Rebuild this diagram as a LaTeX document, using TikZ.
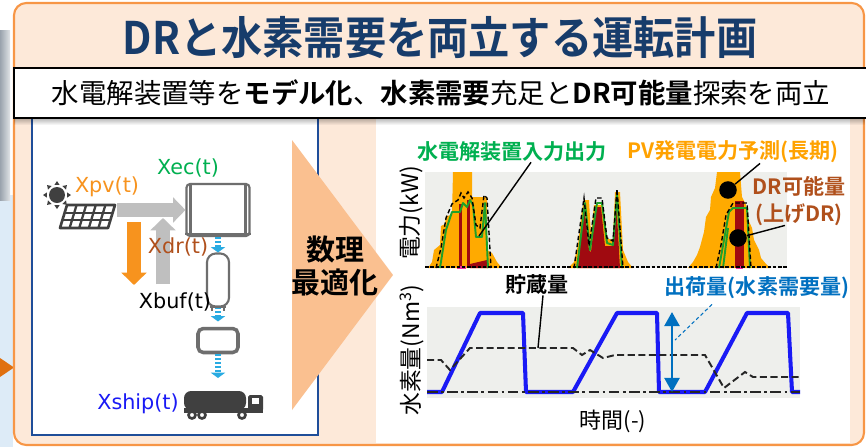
\documentclass[tikz,border=0pt]{standalone}
\usepackage{fontspec}
\setmainfont{Noto Sans CJK JP}[BoldFont={Noto Sans CJK JP Bold}]
\newfontfamily\varfont{DejaVu Sans}
\newfontfamily\headfont{Noto Sans CJK JP Bold}[FakeStretch=0.92]
\usetikzlibrary{arrows.meta, calc, fadings}
\definecolor{titlecolor}{HTML}{173C6B}
\definecolor{panelfill}{HTML}{FDE9D9}
\definecolor{panelrim}{HTML}{F79646}
\definecolor{chevron}{HTML}{FAC090}
\definecolor{boxblue}{HTML}{1F4E99}
\definecolor{stripblue}{HTML}{DDEBF7}
\definecolor{stripgray}{HTML}{9AA3AD}
\definecolor{marker}{HTML}{E0700F}
\definecolor{ink}{HTML}{404040}
\definecolor{unitgray}{HTML}{6E6E6E}
\definecolor{arrgray}{HTML}{BFBFBF}
\definecolor{pvorange}{HTML}{F7931E}
\definecolor{ecgreen}{HTML}{00B050}
\definecolor{drbrown}{HTML}{B0501C}
\definecolor{shipblue}{HTML}{1A1AF5}
\definecolor{demand}{HTML}{0070C0}
\definecolor{water}{HTML}{29ABE2}
\definecolor{plotbg}{HTML}{EEEFEC}
\definecolor{pvfill}{HTML}{FFAA00}
\definecolor{drfill}{HTML}{A00A10}
\definecolor{ecline}{HTML}{1FA02A}
\definecolor{pvlabel}{HTML}{FFA200}

\begin{document}
\begin{tikzpicture}[x=0.02cm, y=-0.02cm,
    every node/.style={inner sep=0pt},
    title/.style={font=\headfont\fontsize{25.5}{28}\selectfont, text=titlecolor},
    lead/.style={font=\fontsize{15.6}{18}\selectfont},
    varlab/.style={font=\varfont\fontsize{11.8}{14}\selectfont},
    plotlab/.style={font=\fontsize{12}{15.3}\selectfont\bfseries},
    axlab/.style={font=\fontsize{13}{15}\selectfont},
    unitbox/.style={draw=unitgray, line width=1.2pt, fill=white},
    bigarr/.style={line width=8.5pt, -{Triangle[length=7pt, width=14pt]}},
    flow/.style={draw=water, line width=3.5pt, dash pattern=on 1.1pt off 1.1pt,
                 -{Triangle[length=3pt, width=8pt]}},
    leader/.style={draw=black, line width=0.8pt},
    leaddot/.style={circle, fill=black, minimum size=10pt},
    dashes/.style={draw=black!85, line width=1.1pt, dash pattern=on 4pt off 2pt},
]
\useasboundingbox (0,0) rectangle (866,447);

% ---------------------------------------------------------- frame
\fill[stripblue] (0,195) rectangle (13,447);
\shade[left color=stripgray, right color=stripgray!30] (0,30) rectangle (10,200);
\fill[marker] (0,358) -- (14,367.5) -- (0,377) -- cycle;
\draw[draw=panelrim, fill=panelfill, line width=1.2pt, rounded corners=7pt]
    (14,3) rectangle (864,445);

\node[title] (head) at (440,38) {DRと水素需要を両立する運転計画};

% left: the plant, right: the two plots
\draw[boxblue, line width=1.2pt, fill=white] (32,118) rectangle (318,435);
\fill[white] (376,118) rectangle (850,443);

\fill[white, draw=black, line width=1.2pt] (14,68) rectangle (870,118);
\fill[black, opacity=0.25, path fading=south] (14,119) rectangle (866,125);
\node[lead] (lead) at (441,93)
    {水電解装置等を\textbf{モデル化}、\textbf{水素需要}充足と\textbf{DR可能量}探索を両立};

% ---------------------------------------------------------- optimisation chevron
\fill[chevron] (292,140) -- (393,275) -- (292,410) -- cycle;
\node[font=\fontsize{16.5}{18.7}\selectfont\bfseries, align=center] (solve)
    at (335,266) {数理\\最適化};

% ---------------------------------------------------------- sun and PV panel
\fill[ink] (57,195) circle[radius=8];
\foreach \a in {0,45,...,315}
  \fill[ink] ($(57,195)+(\a:14)$) -- ($(57,195)+(\a+14:10.5)$)
             -- ($(57,195)+(\a-14:10.5)$) -- cycle;
\filldraw[draw=ink, fill=white, line width=1.5pt, line join=round]
    (60,228) -- (108,228) -- (115,205) -- (67,205) -- cycle;
\foreach \i in {1,...,4}
  \draw[ink, line width=1.3pt] (60+9.6*\i,228) -- (67+9.6*\i,205);
\foreach \j in {1,2}
  \draw[ink, line width=1.3pt] (60+7*\j/3,228-23*\j/3) -- (108+7*\j/3,228-23*\j/3);
\coordinate (pv) at (117,210);

% ---------------------------------------------------------- electrolyser, buffer, truck
\node[unitbox, rounded corners=2pt, minimum width=1.26cm, minimum height=1.04cm]
    (ec) at (218,210) {};
\draw[unitgray, line width=1.2pt] ([xshift=0.1cm]ec.north west) -- ([xshift=0.1cm]ec.south west);
\draw[unitgray, line width=1.2pt] ([xshift=-0.1cm]ec.north east) -- ([xshift=-0.1cm]ec.south east);
\draw[unitgray, line width=1.2pt] ([yshift=0.07cm]ec.south west) -- ([yshift=0.07cm]ec.south east);

\node[unitbox, rounded corners=5pt, minimum width=0.44cm, minimum height=1.06cm]
    (tank) at (218,280) {};
\draw[unitgray, line width=1pt] (210,307) -- (226,307) (212,307) -- (212,311) (224,307) -- (224,311);

\node[unitbox, line width=2pt, rounded corners=3pt, minimum width=0.8cm, minimum height=0.48cm]
    (conv) at (218,340.5) {};

\fill[ink, rounded corners=4pt] (184,391) rectangle (246,410);
\fill[ink] (184,408) rectangle (263,413);
\fill[ink, rounded corners=1pt] (248,395) rectangle (263,411);
\fill[white] (252,398) rectangle (259,404);
\foreach \w in {192,202,242}
  \filldraw[fill=white, draw=ink, line width=1.5pt] (\w,415) circle[radius=3.5];
\coordinate (dock) at (218,378);

% power flows
\draw[bigarr, draw=arrgray] (pv) -- (ec.west);
\coordinate (bufout) at (163,284);
\coordinate (drjoin) at (163,218);
\draw[bigarr, draw=arrgray] (bufout) -- (drjoin);
\coordinate (pvcut) at (134,222);
\coordinate (bufin) at (134,285);
\draw[bigarr, draw=pvorange] (pvcut) -- (bufin);

% hydrogen flows
\draw[flow] (ec.south) -- (tank.north);
\draw[flow, shorten >=3pt] (tank.south) -- (conv.north);
\draw[flow] (conv.south) -- (dock);

\node[varlab, text=pvorange] (xpv)   at (107,187) {Xpv(t)};
\node[varlab, text=ecgreen]  (xec)   at (188,168) {Xec(t)};
\node[varlab, text=drbrown]  (xdr)   at (178,247) {Xdr(t)};
\node[varlab]                (xbuf)  at (175,302) {Xbuf(t)};
\node[varlab, text=shipblue] (xship) at (138,404) {Xship(t)};

% ---------------------------------------------------------- power plot
\fill[plotbg] (425,172) rectangle (787,268);
\begin{scope}
  \clip (425,172) rectangle (787,268);
  % PV forecast, one hump a day
  \fill[pvfill] (428,268) -- (432,262) -- (434,250) -- (440,245) -- (441,226) -- (445,224)
      -- (446,216) -- (452,215) -- (453,172) -- (472,172) -- (472,197) -- (487,197)
      -- (487,250) -- (492,253) -- (497,262) -- (502,268) -- cycle;
  \fill[pvfill] (568,268) -- (574,262) -- (578,245) -- (582,210) -- (584,200) -- (589,200)
      -- (591,235) -- (594,205) -- (603,205) -- (606,238) -- (613,240) -- (615,192)
      -- (620,192) -- (623,250) -- (628,262) -- (633,268) -- cycle;
  \fill[pvfill] (688,268) -- (693,262) -- (697,255) -- (700,247) -- (704,232) -- (706,217)
      -- (710,210) -- (711,197) -- (715,188) -- (717,172) -- (740,172) -- (742,197)
      -- (746,205) -- (747,217) -- (752,228) -- (754,240) -- (759,250) -- (761,258)
      -- (766,264) -- (770,268) -- cycle;
  % DR margin
  \fill[drfill] (459,204) rectangle (462,268);
  \fill[drfill] (467,200) rectangle (470,268);
  \fill[drfill] (470,264) -- (487,260) -- (488,268) -- (470,268) -- cycle;
  \fill[drfill] (578,268) -- (584,207) -- (589,250) -- (591,252) -- (596,207) -- (601,207)
      -- (605,246) -- (613,246) -- (616,198) -- (620,268) -- cycle;
  \fill[drfill] (735,201) rectangle (744,268);
  \fill[magenta!80] (457,266) rectangle (466,268.5);
  \fill[magenta!80] (736,266) rectangle (743,268.5);
  % electrolyser input
  \draw[ecline, line width=1.1pt, line join=round]
      (440,268) -- (446,230) -- (452,212) -- (460,212) -- (463,203) -- (467,207) -- (470,200)
      -- (473,205) -- (476,237) -- (482,237) -- (485,203) -- (488,268);
  \draw[ecline, line width=1.1pt, line join=round]
      (577,268) -- (585,203) -- (590,250) -- (597,203) -- (602,203) -- (607,243) -- (613,245)
      -- (617,195) -- (622,268);
  \draw[ecline, line width=1.1pt, line join=round]
      (719,268) -- (724,240) -- (729,212) -- (733,208) -- (747,208) -- (750,268);
  \draw[ecline, line width=1.1pt] (723,268) -- (728,228);
  % upper bound of the input
  \draw[black, line width=0.8pt, dash pattern=on 2.5pt off 1.5pt]
      (436,268) -- (441,248) -- (446,218) -- (452,204) -- (458,200) -- (461,193) -- (464,198)
      -- (468,192) -- (472,198) -- (476,225) -- (480,228) -- (484,195) -- (487,198) -- (491,268);
  \draw[black, line width=0.8pt, dash pattern=on 2.5pt off 1.5pt]
      (574,268) -- (584,198) -- (589,246) -- (596,198) -- (602,198) -- (607,238) -- (613,241)
      -- (617,189) -- (623,268);
  \draw[black, line width=0.8pt, dash pattern=on 2.5pt off 1.5pt]
      (716,268) -- (721,245) -- (726,215) -- (733,203) -- (747,203) -- (751,268);
\end{scope}
\draw[black, line width=1.2pt, dash pattern=on 2pt off 1pt] (425,267) -- (787,267);

\node[axlab, rotate=90] (ypower) at (411,213) {電力(kW)};
\node[plotlab, text=ecgreen] (lblec) at (512,152) {水電解装置入力出力};
\node[plotlab, text=pvlabel] (lblpv) at (733,152) {PV発電電力予測(長期)};
\node[plotlab, text=drbrown, align=center] (lbldr) at (799,201.5) {DR可能量\\(上げDR)};
\node[leaddot] (pvdot) at (728,190) {};
\node[leaddot] (drdot) at (738,238) {};
\coordinate (ecpt) at (479,236);
\draw[leader] ($(lblec.south)+(19,0)$) -- (ecpt);
\draw[leader] ($(lblpv.south)+(27,0)$) -- (pvdot);
\draw[leader] ($(lbldr.south)+(-14,-1)$) -- (drdot);

% ---------------------------------------------------------- hydrogen plot
\fill[plotbg] (427,307) rectangle (800,398);
\draw[shipblue, line width=2.3pt, line join=round]
    (427,392) -- (442,392) -- (480,313) -- (523,313) -- (526,392) -- (573,392) -- (617,313)
    -- (657,313) -- (659,392) -- (705,392) -- (747,313) -- (788,313) -- (792,392) -- (800,392);
\draw[black!85, line width=1.2pt, dash pattern=on 6pt off 2pt on 1.5pt off 2pt]
    (427,392) -- (800,392);
\draw[dashes] (427,360) -- (441,360) -- (450,370) -- (470,348) -- (573,348) -- (582,355)
    -- (590,350) -- (603,358) -- (615,355) -- (705,355) -- (724,388) -- (745,372)
    -- (753,377) -- (800,377);

\node[axlab, rotate=90] (yhydro) at (412,350) {水素量(Nm\textsuperscript{3})};
\node[axlab, font=\fontsize{12.5}{15}\selectfont] (xtime) at (613,421) {時間(-)};
\node[plotlab] (lblst) at (537,285) {貯蔵量};
\node[plotlab, text=demand] (lblship) at (757,288) {出荷量(水素需要量)};

\coordinate (stpt) at (538,348);
\draw[leader] ($(lblst.south)+(6,0)$) -- (stpt);
\coordinate (shtop) at (672,312);
\coordinate (shbot) at (672,392);
\coordinate (shmid) at (675,340);
\draw[demand, line width=1.5pt, {Triangle[length=8pt, width=8.5pt]}-{Triangle[length=8pt, width=8.5pt]}]
    (shtop) -- (shbot);
\draw[demand, line width=0.6pt, dash pattern=on 2pt off 1.5pt]
    ($(lblship.south)+(-45,5)$) -- (shmid);

\end{tikzpicture}
\end{document}
